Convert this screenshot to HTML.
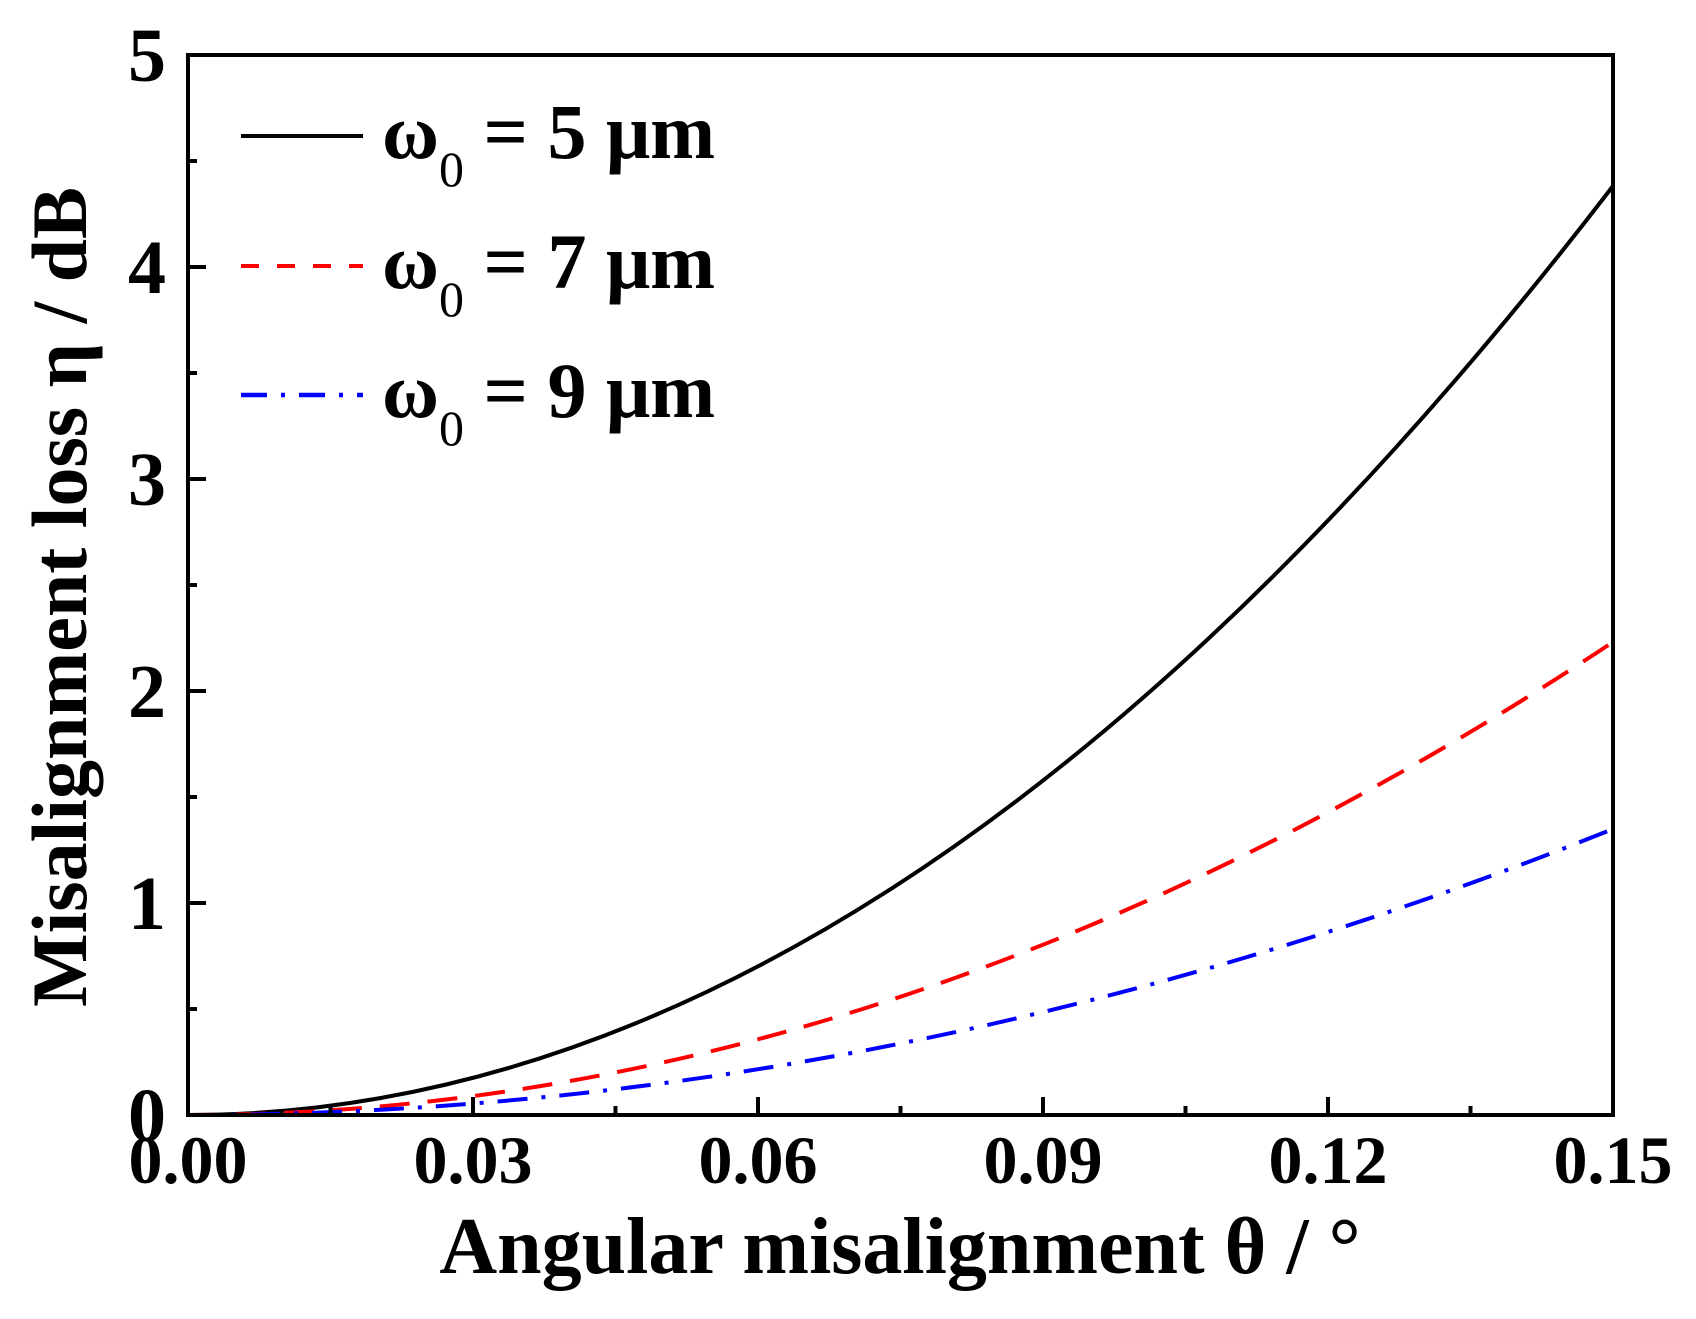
<!DOCTYPE html>
<html><head><meta charset="utf-8"><style>
html,body{margin:0;padding:0;background:#fff;}
svg{display:block;}
text{font-family:"Liberation Serif",serif;font-weight:bold;fill:#000;}
</style></head><body>
<svg width="1696" height="1319" viewBox="0 0 1696 1319" xmlns="http://www.w3.org/2000/svg">
<rect x="0" y="0" width="1696" height="1319" fill="#fff"/>
<path d="M188,1115 Q900.5,1115 1613,186" fill="none" stroke="#000" stroke-width="4"/>
<path d="M188,1115 Q900.5,1115 1613,642" fill="none" stroke="#f00" stroke-width="4" stroke-dasharray="30,18"/>
<path d="M188,1115 Q900.5,1115 1613,829" fill="none" stroke="#00f" stroke-width="4" stroke-dasharray="30,14,4,14"/>
<rect x="188" y="55" width="1425" height="1060" fill="none" stroke="#000" stroke-width="4"/>
<g stroke="#000" stroke-width="4">
<line x1="473" y1="1115" x2="473" y2="1097"/>
<line x1="758" y1="1115" x2="758" y2="1097"/>
<line x1="1043" y1="1115" x2="1043" y2="1097"/>
<line x1="1328" y1="1115" x2="1328" y2="1097"/>
<line x1="330.5" y1="1115" x2="330.5" y2="1106"/>
<line x1="615.5" y1="1115" x2="615.5" y2="1106"/>
<line x1="900.5" y1="1115" x2="900.5" y2="1106"/>
<line x1="1185.5" y1="1115" x2="1185.5" y2="1106"/>
<line x1="1470.5" y1="1115" x2="1470.5" y2="1106"/>
<line x1="188" y1="903" x2="206" y2="903"/>
<line x1="188" y1="691" x2="206" y2="691"/>
<line x1="188" y1="479" x2="206" y2="479"/>
<line x1="188" y1="267" x2="206" y2="267"/>
<line x1="188" y1="1009" x2="197" y2="1009"/>
<line x1="188" y1="797" x2="197" y2="797"/>
<line x1="188" y1="585" x2="197" y2="585"/>
<line x1="188" y1="373" x2="197" y2="373"/>
<line x1="188" y1="161" x2="197" y2="161"/>
</g>
<g font-size="68" text-anchor="middle">
<text x="188" y="1183">0.00</text>
<text x="473" y="1183">0.03</text>
<text x="758" y="1183">0.06</text>
<text x="1043" y="1183">0.09</text>
<text x="1328" y="1183">0.12</text>
<text x="1613" y="1183">0.15</text>
</g>
<g font-size="76" text-anchor="end">
<text x="166" y="1141">0</text>
<text x="166" y="929">1</text>
<text x="166" y="717">2</text>
<text x="166" y="505">3</text>
<text x="166" y="293">4</text>
<text x="166" y="81">5</text>
</g>
<text x="900" y="1273" font-size="80" text-anchor="middle">Angular misalignment θ / °</text>
<text transform="translate(86,597) rotate(-90)" font-size="78" text-anchor="middle">Misalignment loss η / dB</text>
<line x1="241" y1="136" x2="363" y2="136" stroke="#000" stroke-width="4"/>
<line x1="241" y1="266" x2="363" y2="266" stroke="#f00" stroke-width="4" stroke-dasharray="18,18"/>
<line x1="241" y1="395" x2="363" y2="395" stroke="#00f" stroke-width="4.5" stroke-dasharray="26,14,4,14"/>
<g font-size="78">
<text x="382" y="158">ω<tspan font-size="50" font-weight="normal" dy="28">0</tspan><tspan dy="-28"> = 5 μm</tspan></text>
<text x="382" y="288">ω<tspan font-size="50" font-weight="normal" dy="28">0</tspan><tspan dy="-28"> = 7 μm</tspan></text>
<text x="382" y="417">ω<tspan font-size="50" font-weight="normal" dy="28">0</tspan><tspan dy="-28"> = 9 μm</tspan></text>
</g>
</svg>
</body></html>
